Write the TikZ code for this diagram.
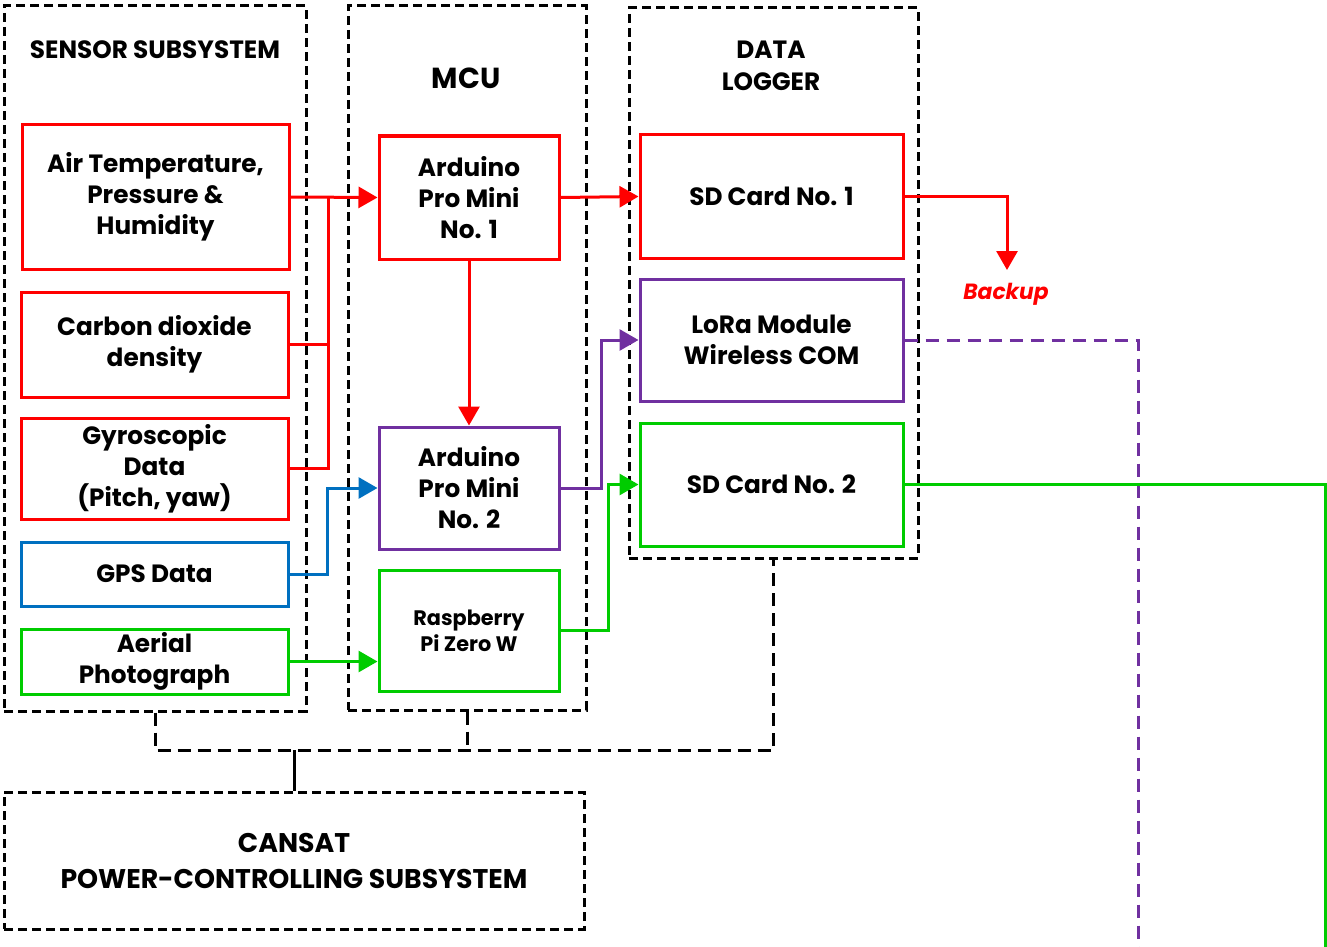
\documentclass[tikz,border=0pt]{standalone}
\usepackage{fontspec}
\setmainfont{Poppins}[FakeStretch=0.99]
\usepackage{xcolor}
\usepackage{tikz}
\usetikzlibrary{arrows.meta}

\definecolor{cRed}{RGB}{255,0,0}
\definecolor{cPurple}{RGB}{112,48,160}
\definecolor{cBlue}{RGB}{0,112,192}
\definecolor{cGreen}{RGB}{0,204,0}

\tikzset{
	blk/.style={draw, line width=3pt, align=center, inner sep=0pt,
		font=\bfseries\fontsize{25}{31}\selectfont},
	grp/.style={draw, line width=3pt, dash pattern=on 9pt off 5pt, inner sep=0pt},
	ttl/.style={align=center, font=\bfseries\fontsize{25}{32}\selectfont},
	wire/.style={line width=3pt},
	arr/.style={-{Triangle[length=19pt,width=21pt]}},
}

\begin{document}
\begin{tikzpicture}[x=1pt,y=-1pt]
		\useasboundingbox (0,0) rectangle (1327,947);
		% group frames
		\node[grp, minimum width=302, minimum height=705] (SenG) at (155,358.5) {};
		\node[grp, minimum width=238, minimum height=704] (McuG) at (467,358) {};
		\node[grp, minimum width=289, minimum height=550] (LogG) at (773.5,283) {};
		\node[grp, minimum width=580, minimum height=137] (Pow) at (294,860.5) {};
		%
		\node[ttl] (SenT) at (155,50) {SENSOR SUBSYSTEM};
		\node[ttl, font=\bfseries\fontsize{29}{32}\selectfont] (McuT) at (466,78) {MCU};
		\node[ttl] (LogT) at (771,66) {DATA\\LOGGER};
		\node[ttl, font=\bfseries\fontsize{27}{36}\selectfont] (PowT) at (294,861) {CANSAT\\POWER-CONTROLLING SUBSYSTEM};
		%
		% sensors
		\node[blk, cRed, minimum width=267, minimum height=144] (Air) at (155.5,197) {\color{black}Air Temperature,\\\color{black}Pressure \&\\\color{black}Humidity};
		\node[blk, cRed, minimum width=267, minimum height=105] (CO) at (154.5,344.5) {\color{black}Carbon dioxide\\\color{black}density};
		\node[blk, cRed, minimum width=267, minimum height=101] (Gyro) at (154.5,468.5) {\color{black}Gyroscopic\\\color{black}Data\\\color{black}(Pitch, yaw)};
		\node[blk, cBlue, minimum width=267, minimum height=64] (GPS) at (154.5,574) {\color{black}GPS Data};
		\node[blk, cGreen, minimum width=267, minimum height=65] (Photo) at (154.5,661.5) {\color{black}Aerial\\\color{black}Photograph};
		%
		% mcu
		\node[blk, cRed, minimum width=180, minimum height=123] (Ard1) at (469,197.5) {\color{black}Arduino\\\color{black}Pro Mini\\\color{black}No. 1};
		\node[blk, cPurple, minimum width=180, minimum height=122] (Ard2) at (469,488) {\color{black}Arduino\\\color{black}Pro Mini\\\color{black}No. 2};
		\node[blk, cGreen, minimum width=180, minimum height=121,
			font=\bfseries\fontsize{21}{26}\selectfont] (Pi) at (469,630.5) {\color{black}Raspberry\\\color{black}Pi Zero W};
		%
		% logger
		\node[blk, cRed, minimum width=263, minimum height=123] (SD1) at (771.5,196.5) {\color{black}SD Card No. 1};
		\node[blk, cPurple, minimum width=263, minimum height=122] (LoRa) at (771.5,340) {\color{black}LoRa Module\\\color{black}Wireless COM};
		\node[blk, cGreen, minimum width=263, minimum height=123] (SD2) at (771.5,484.5) {\color{black}SD Card No. 2};
		%
		\coordinate (J) at (328,197);
		\coordinate (Bk) at (1007,270);
		\coordinate (LEnd) at (1138,947);
		\coordinate (SEnd) at (1325,947);
		\coordinate (Bus) at (294,750);
		\node[font=\bfseries\itshape\fontsize{22}{26}\selectfont, text=cRed] (Back) at (1006,294) {Backup};
		%
		% red lines
		\draw[wire, cRed, arr] (Air.east) -- (Ard1.west);
		\draw[wire, cRed] (CO.east) -| (J);
		\draw[wire, cRed] (Gyro.east) -| (J);
		\draw[wire, cRed, arr] (Ard1.south) -- (Ard2.north);
		\draw[wire, cRed, arr] (Ard1.east) -- (SD1.west);
		\draw[wire, cRed, arr] (SD1.east) -| (Bk);
		% blue / green / purple
		\draw[wire, cBlue, arr] (GPS.east) -- ++(38,0) |- (Ard2.west);
		\draw[wire, cGreen, arr] (Photo.east) -- (Photo.east -| Pi.west);
		\draw[wire, cPurple, arr] (Ard2.east) -- ++(41,0) |- (LoRa.west);
		\draw[wire, cGreen, arr] (Pi.east) -- ++(48,0) |- (SD2.west);
		\draw[wire, cPurple, dash pattern=on 13pt off 8pt] (LoRa.east) -| (LEnd);
		\draw[wire, cGreen] (SD2.east) -| (SEnd);
		% power bus
		\draw[wire, dash pattern=on 13pt off 7pt] (SenG.south) |- (Bus) -| (LogG.south);
		\draw[wire, dash pattern=on 13pt off 7pt] (McuG.south) -- (McuG.south |- Bus);
		\draw[wire] (Bus) -- (Pow.north);
	\end{tikzpicture}
\end{document}
